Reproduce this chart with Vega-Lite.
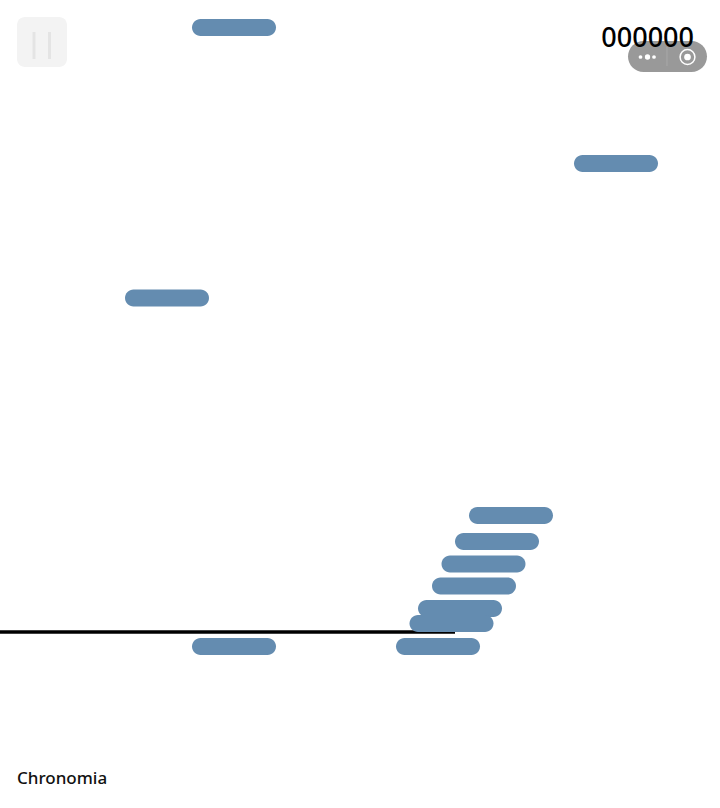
{
  "$schema": "https://vega.github.io/schema/vega-lite/v6.json",
  "autosize": {"type": "none"},
  "width": 720,
  "height": 808,
  "padding": 0,
  "background": "white",
  "config": {"view": {"stroke": null}},
  "datasets": {
    "platforms": [
      {"start": 192, "end": 276, "top": 19, "bottom": 36},
      {"start": 574, "end": 658, "top": 155, "bottom": 172},
      {"start": 125, "end": 209, "top": 289.5, "bottom": 306.5},
      {"start": 469, "end": 553, "top": 507, "bottom": 524},
      {"start": 455, "end": 539, "top": 533, "bottom": 550},
      {"start": 441.5, "end": 525.5, "top": 555.5, "bottom": 572.5},
      {"start": 432, "end": 516, "top": 577.5, "bottom": 594.5},
      {"start": 418, "end": 502, "top": 600, "bottom": 617},
      {"start": 409.5, "end": 493.5, "top": 615, "bottom": 632},
      {"start": 396, "end": 480, "top": 638, "bottom": 655},
      {"start": 192, "end": 276, "top": 638, "bottom": 655}
    ],
    "floor": [{"start": 0, "end": 455, "level": 632}],
    "pause": [{"start": 17, "end": 67, "top": 17, "bottom": 67}],
    "pauseBars": [
      {"pos": 34, "top": 32, "bottom": 59},
      {"pos": 49.5, "top": 32, "bottom": 59}
    ],
    "capsule": [{"start": 628, "end": 707, "top": 41, "bottom": 72}],
    "divider": [{"pos": 667, "top": 47, "bottom": 66}],
    "smallDots": [{"pos": 640.5, "level": 57}, {"pos": 654, "level": 57}],
    "bigDot": [{"pos": 647.5, "level": 57}],
    "ring": [{"pos": 687.5, "level": 57}],
    "score": [{"pos": 694, "level": 47, "label": "000000"}],
    "name": [{"pos": 17, "level": 784, "label": "Chronomia"}]
  },
  "layer": [
    {
      "data": {"name": "pause"},
      "mark": {"type": "rect", "color": "#f3f3f3", "cornerRadius": 8},
      "encoding": {
        "x": {"field": "start", "type": "quantitative", "scale": {"domain": [0, 720], "nice": false, "zero": false}, "axis": null},
        "x2": {"field": "end"},
        "y": {"field": "top", "type": "quantitative", "scale": {"domain": [808, 0], "nice": false, "zero": false}, "axis": null},
        "y2": {"field": "bottom"}
      }
    },
    {
      "data": {"name": "pauseBars"},
      "mark": {"type": "rule", "color": "#e4e4e4", "strokeWidth": 3},
      "encoding": {
        "x": {"field": "pos", "type": "quantitative"},
        "y": {"field": "top", "type": "quantitative"},
        "y2": {"field": "bottom"}
      }
    },
    {
      "data": {"name": "floor"},
      "mark": {"type": "rule", "color": "#000000", "strokeWidth": 3.5},
      "encoding": {
        "x": {"field": "start", "type": "quantitative"},
        "x2": {"field": "end"},
        "y": {"field": "level", "type": "quantitative"}
      }
    },
    {
      "data": {"name": "platforms"},
      "mark": {"type": "rect", "color": "#648cb0", "cornerRadius": 8.5},
      "encoding": {
        "x": {"field": "start", "type": "quantitative"},
        "x2": {"field": "end"},
        "y": {"field": "top", "type": "quantitative"},
        "y2": {"field": "bottom"}
      }
    },
    {
      "data": {"name": "capsule"},
      "mark": {"type": "rect", "color": "#999999", "cornerRadius": 15.5},
      "encoding": {
        "x": {"field": "start", "type": "quantitative"},
        "x2": {"field": "end"},
        "y": {"field": "top", "type": "quantitative"},
        "y2": {"field": "bottom"}
      }
    },
    {
      "data": {"name": "divider"},
      "mark": {"type": "rule", "color": "#a8a8a8", "strokeWidth": 1},
      "encoding": {
        "x": {"field": "pos", "type": "quantitative"},
        "y": {"field": "top", "type": "quantitative"},
        "y2": {"field": "bottom"}
      }
    },
    {
      "data": {"name": "smallDots"},
      "mark": {"type": "point", "shape": "circle", "filled": true, "color": "#ffffff", "opacity": 1, "size": 14},
      "encoding": {
        "x": {"field": "pos", "type": "quantitative"},
        "y": {"field": "level", "type": "quantitative"}
      }
    },
    {
      "data": {"name": "bigDot"},
      "mark": {"type": "point", "shape": "circle", "filled": true, "color": "#ffffff", "opacity": 1, "size": 28},
      "encoding": {
        "x": {"field": "pos", "type": "quantitative"},
        "y": {"field": "level", "type": "quantitative"}
      }
    },
    {
      "data": {"name": "ring"},
      "mark": {"type": "point", "shape": "circle", "filled": false, "color": "#ffffff", "opacity": 1, "strokeWidth": 1.5, "size": 220},
      "encoding": {
        "x": {"field": "pos", "type": "quantitative"},
        "y": {"field": "level", "type": "quantitative"}
      }
    },
    {
      "data": {"name": "ring"},
      "mark": {"type": "point", "shape": "circle", "filled": true, "color": "#ffffff", "opacity": 1, "size": 45},
      "encoding": {
        "x": {"field": "pos", "type": "quantitative"},
        "y": {"field": "level", "type": "quantitative"}
      }
    },
    {
      "data": {"name": "score"},
      "mark": {"type": "text", "align": "right", "baseline": "alphabetic", "font": "Noto Sans", "fontSize": 27, "fontWeight": 500, "color": "#000000"},
      "encoding": {
        "x": {"field": "pos", "type": "quantitative"},
        "y": {"field": "level", "type": "quantitative"},
        "text": {"field": "label"}
      }
    },
    {
      "data": {"name": "name"},
      "mark": {"type": "text", "align": "left", "baseline": "alphabetic", "font": "Noto Sans", "fontSize": 17, "fontWeight": 500, "color": "#111111"},
      "encoding": {
        "x": {"field": "pos", "type": "quantitative"},
        "y": {"field": "level", "type": "quantitative"},
        "text": {"field": "label"}
      }
    }
  ]
}
